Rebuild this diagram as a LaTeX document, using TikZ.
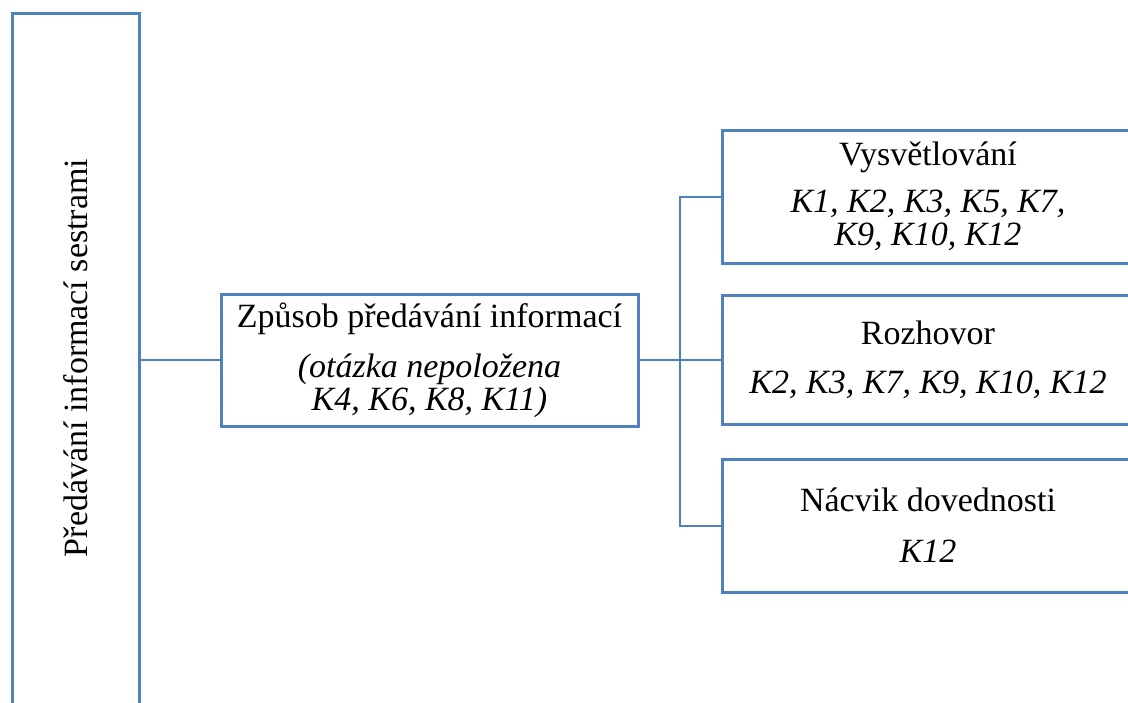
\documentclass[tikz,border=0pt]{standalone}
\usepackage{fontspec}
\setmainfont{Liberation Serif}
\definecolor{boxblue}{HTML}{4F81BD}
\begin{document}
\begin{tikzpicture}[x=1pt,y=-1pt,
  box/.style={draw=boxblue, line width=3pt, fill=white, align=center,
    inner sep=0pt, font=\fontsize{34}{33}\selectfont},
  link/.style={draw=boxblue, line width=2pt}]
\useasboundingbox (0,0) rectangle (1128,702);
\clip (0,0) rectangle (1128,702);

% root category, text running bottom to top; the box runs past the lower edge
\node[box, rotate=90, minimum width=710pt, minimum height=127pt] (root)
  at (75.5,368) {\hspace*{20pt}Předávání informací sestrami};

% sub-category
\node[box, minimum width=417pt, minimum height=132pt] (way) at (429.5,360)
  {Způsob předávání informací\\[17pt]
   \textit{(otázka nepoložena}\\
   \textit{K4, K6, K8, K11)}};

% leaves
\node[box, minimum width=412pt, minimum height=133pt] (b1) at (928,196.5)
  {Vysvětlování\\[14pt]
   \textit{K1, K2, K3, K5, K7,}\\
   \textit{K9, K10, K12}};
\node[box, minimum width=412pt, minimum height=129pt] (b2) at (928,360)
  {Rozhovor\\[16pt]
   \textit{K2, K3, K7, K9, K10, K12}};
\node[box, minimum width=412pt, minimum height=133pt] (b3) at (928,525.5)
  {Nácvik dovednosti\\[18pt]
   \textit{K12}};

% connectors
\coordinate (tr) at (680,360);
\draw[link] (root.south |- way.west) -- (way.west);
\draw[link] (way.east) -- (b2.west);
\draw[link] (b1.west) -- (b1.west -| tr) -- (b3.west -| tr) -- (b3.west);
\end{tikzpicture}
\end{document}
